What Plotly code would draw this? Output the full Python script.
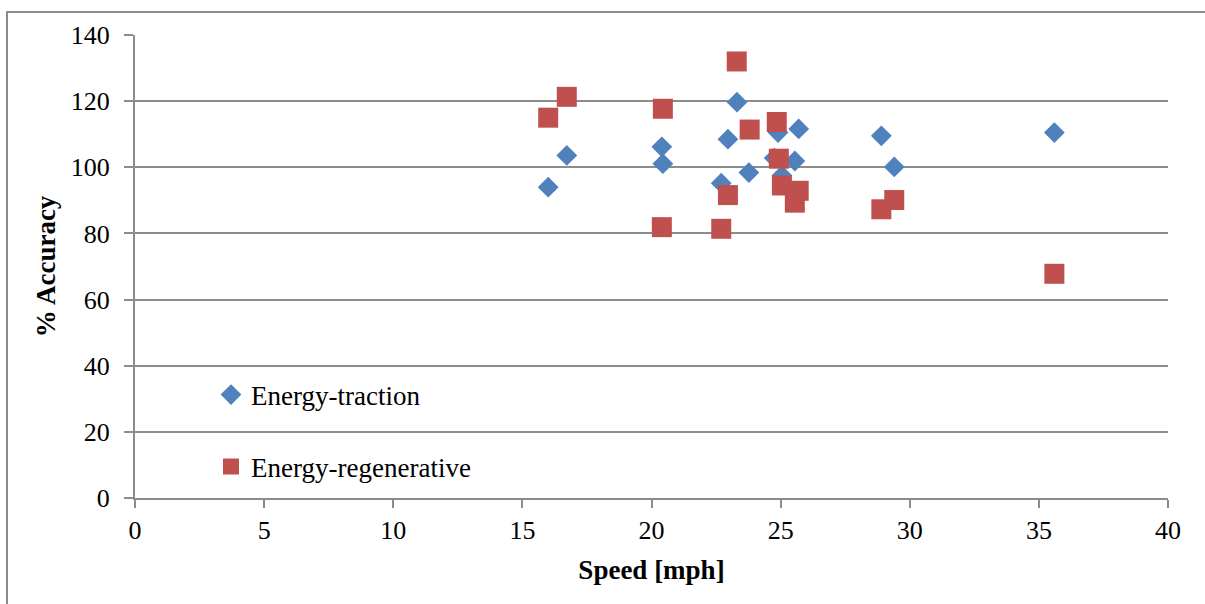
import plotly.graph_objects as go

# Energy-traction (blue diamonds)
trac_speed = [16.0, 16.72, 20.40, 20.44, 22.70, 22.96, 23.31, 23.77, 24.75, 24.90, 25.05, 25.55, 25.70, 28.90, 29.40, 35.60]
trac_acc   = [94.0, 103.6, 106.2, 101.1, 95.2, 108.5, 119.7, 98.4, 102.8, 110.5, 97.5, 101.9, 111.6, 109.5, 100.1, 110.5]

# Energy-regenerative (red squares)
regen_speed = [16.0, 16.72, 20.40, 20.44, 22.70, 22.96, 23.30, 23.80, 24.85, 24.93, 25.05, 25.55, 25.70, 28.90, 29.40, 35.60]
regen_acc   = [115.0, 121.3, 81.9, 117.7, 81.4, 91.6, 132.0, 111.4, 113.7, 102.6, 94.5, 89.3, 92.9, 87.3, 90.1, 67.8]

x_ticks = [0, 5, 10, 15, 20, 25, 30, 35, 40]
y_ticks = [0, 20, 40, 60, 80, 100, 120, 140]

FONT = "Liberation Serif, Times New Roman, serif"
GRID = "#8c8c8c"

fig = go.Figure()
fig.add_trace(go.Scatter(
    x=trac_speed, y=trac_acc, mode="markers", name="Energy-traction",
    marker=dict(symbol="diamond", size=16, color="#4F81BD"),
    legend="legend", showlegend=True,
))
fig.add_trace(go.Scatter(
    x=regen_speed, y=regen_acc, mode="markers", name="Energy-regenerative",
    marker=dict(symbol="square", size=20, color="#C0504D"),
    legend="legend2", showlegend=True,
))

W, H = 1205, 604
L, R, T, B = 135, 37, 35, 106
pw, ph = W - L - R, H - T - B

def px(xp):
    return (xp - L) / pw

def py(yp):
    return (H - B - yp) / ph

fig.update_layout(
    width=W, height=H,
    margin=dict(l=L, r=R, t=T, b=B, pad=0),
    paper_bgcolor="white", plot_bgcolor="white",
    showlegend=True,
    font=dict(family=FONT, size=26, color="black"),
    xaxis=dict(
        range=[0, 40], tickvals=x_ticks, showgrid=False, zeroline=False,
        showline=True, linecolor=GRID, linewidth=2,
        ticks="outside", ticklen=8, tickcolor=GRID, tickwidth=2,
        tickfont=dict(size=26),
        title=dict(text="<b>Speed [mph]</b>", font=dict(size=27), standoff=16),
    ),
    yaxis=dict(
        range=[0, 140], tickvals=y_ticks, showgrid=True, gridcolor=GRID, gridwidth=2,
        zeroline=False, showline=True, linecolor=GRID, linewidth=2,
        ticks="outside", ticklen=9, tickcolor=GRID, tickwidth=2,
        tickfont=dict(size=26), ticklabelstandoff=9,
        title=dict(text="<b>% Accuracy</b>", font=dict(size=27), standoff=7),
    ),
    legend=dict(x=px(211), y=py(395), xanchor="left", yanchor="middle",
                bgcolor="rgba(0,0,0,0)", font=dict(size=27)),
    legend2=dict(x=px(211), y=py(467), xanchor="left", yanchor="middle",
                 bgcolor="rgba(0,0,0,0)", font=dict(size=27)),
    shapes=[dict(type="rect", xref="paper", yref="paper",
                 x0=px(7), x1=px(1220), y0=py(620), y1=py(12),
                 line=dict(color="#8c8c8c", width=2), layer="below")],
)

fig.write_html("out.html")
